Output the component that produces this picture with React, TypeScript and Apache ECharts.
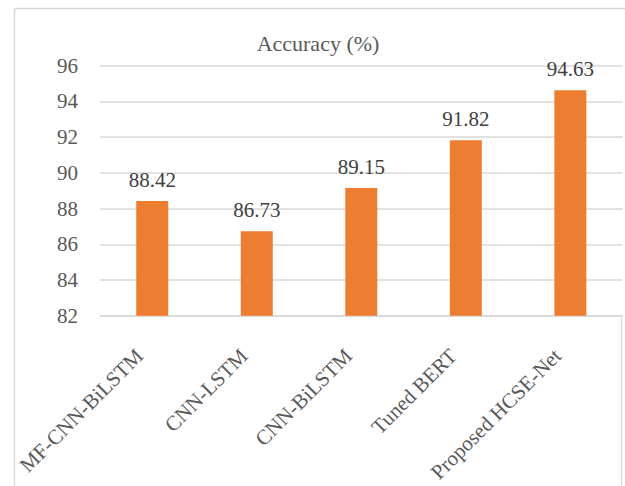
import React, { useEffect, useRef } from "react";
import * as echarts from "echarts";

const categories = ["MF-CNN-BiLSTM", "CNN-LSTM", "CNN-BiLSTM", "Tuned BERT", "Proposed HCSE-Net"];
const accuracy = [88.42, 86.73, 89.15, 91.82, 94.63];
const yMin = 82;
const yMax = 96;
const yStep = 2;

export default function App() {
  const ref = useRef<HTMLDivElement>(null);
  useEffect(() => {
    if (!ref.current) return;
    const chart = echarts.init(ref.current, null, { renderer: "svg" });
    const font = "Liberation Serif";
    chart.setOption({
      animation: false,
      backgroundColor: "#ffffff",
      textStyle: { fontFamily: font },
      graphic: [
        { type: "line", shape: { x1: 14.5, y1: 8.5, x2: 625, y2: 8.5 }, style: { stroke: "#d9d9d9", lineWidth: 1.5 } },
        { type: "line", shape: { x1: 14.5, y1: 8.5, x2: 14.5, y2: 486 }, style: { stroke: "#d9d9d9", lineWidth: 1.5 } },
        { type: "line", shape: { x1: 621.5, y1: 318, x2: 621.5, y2: 486 }, style: { stroke: "#d9d9d9", lineWidth: 1.5 } },
        {
          type: "text",
          x: 318,
          y: 43,
          style: {
            text: "Accuracy (%)",
            fontSize: 22,
            fontFamily: font,
            fill: "#595959",
            textAlign: "center",
            textVerticalAlign: "middle",
          },
        },
      ],
      grid: { left: 100, right: 2.4, top: 65.7, bottom: 170.3, containLabel: false },
      xAxis: {
        type: "category",
        data: categories,
        axisLine: { show: true, lineStyle: { color: "#d9d9d9", width: 1.5 } },
        axisTick: { show: false },
        axisLabel: {
          rotate: 45,
          margin: 24,
          interval: 0,
          color: "#595959",
          fontSize: 21,
          fontFamily: font,
          padding: [0, 18, 0, 0],
        },
      },
      yAxis: {
        type: "value",
        min: yMin,
        max: yMax,
        interval: yStep,
        axisLine: { show: false },
        axisTick: { show: false },
        splitLine: { show: true, lineStyle: { color: "#d9d9d9", width: 1.5 } },
        axisLabel: { color: "#595959", fontSize: 21, fontFamily: font, margin: 22 },
      },
      series: [
        {
          type: "bar",
          data: accuracy,
          barWidth: 32,
          itemStyle: { color: "#ED7D31" },
          label: {
            show: true,
            position: "top",
            distance: 11,
            color: "#404040",
            fontSize: 21,
            fontFamily: font,
            formatter: (p: any) => p.value.toFixed(2),
          },
        },
      ],
    });
    return () => chart.dispose();
  }, []);
  return (
    <div
      ref={ref}
      style={{ position: "fixed", left: 0, top: 0, width: 625, height: 486 }}
    />
  );
}
